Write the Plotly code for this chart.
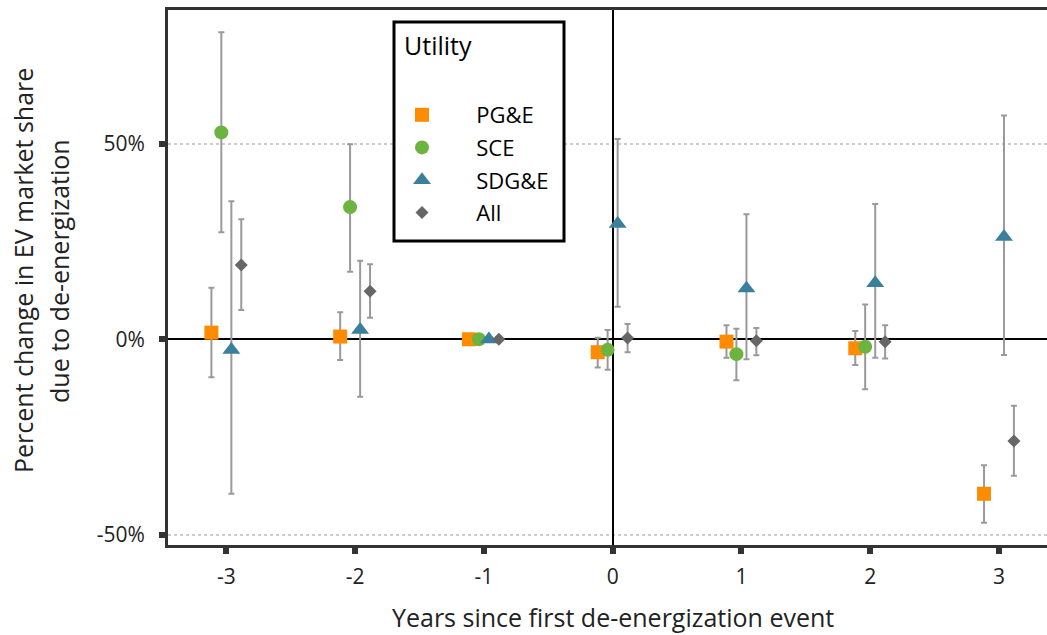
import plotly.graph_objects as go

# ---- data (percent) ----
years = [-3, -2, -1, 0, 1, 2, 3]
utilities = ["PG&E", "SCE", "SDG&E", "All"]
dodge = [-0.116, -0.039, 0.039, 0.116]

pge = [1.7, 0.7, 0.0, -3.3, -0.6, -2.3, -39.5]
pge_hi = [13.2, 6.9, None, 0.4, 3.6, 2.1, -32.2]
pge_lo = [-9.7, -5.3, None, -7.2, -4.7, -6.6, -46.9]

sce = [52.9, 33.8, 0.0, -2.7, -3.8, -1.9, None]
sce_hi = [78.5, 49.9, None, 2.4, 2.7, 8.9, None]
sce_lo = [27.4, 17.3, None, -7.8, -10.5, -12.8, None]

sdge = [-2.7, 2.4, 0.0, 29.5, 13.0, 14.4, 26.2]
sdge_hi = [35.3, 20.1, None, 51.2, 32.0, 34.6, 57.2]
sdge_lo = [-39.5, -14.7, None, 8.3, -5.1, -4.7, -4.0]

allu = [19.0, 12.3, 0.0, 0.3, -0.4, -0.6, -26.0]
allu_hi = [30.7, 19.2, None, 3.9, 2.9, 3.6, -17.0]
allu_lo = [7.5, 5.5, None, -3.3, -4.1, -4.9, -34.9]

yticks = [-50, 0, 50]
yticktext = ["-50%", "0%", "50%"]
x_title = "Years since first de-energization event"
y_title_lines = ["Percent change in EV market share", "due to de-energization"]

colors = ["#FF8C00", "#6DB33F", "#3A7F9C", "#666666"]
symbols = ["square", "circle", "triangle-up", "diamond"]
sizes = [14, 14, 15.6, 10]

vals = [pge, sce, sdge, allu]
his = [pge_hi, sce_hi, sdge_hi, allu_hi]
los = [pge_lo, sce_lo, sdge_lo, allu_lo]

FONT = "Open Sans"
PAD = "\u00a0" * 6  # gap between legend symbol and label

# plot area in pixels
L, T, B, W = 168, 10, 545, 879


def px_x(p):
    return (p - L) / W


def px_y(p):
    return (B - p) / (B - T)


fig = go.Figure()
for i, name in enumerate(utilities):
    v, hi, lo = vals[i], his[i], los[i]
    plus = [None if (h is None or a is None) else h - a for h, a in zip(hi, v)]
    minus = [None if (l is None or a is None) else a - l for l, a in zip(lo, v)]
    fig.add_trace(go.Scatter(
        x=[y + dodge[i] for y in years], y=v, name=PAD + name, mode="markers",
        legendgroup=name,
        marker=dict(symbol=symbols[i], size=sizes[i], color=colors[i], line=dict(width=0)),
        error_y=dict(type="data", array=plus, arrayminus=minus, symmetric=False,
                     color="#9a9a9a", thickness=2, width=3),
    ))

# legend frame
fig.add_shape(type="rect", xref="paper", yref="paper",
              x0=px_x(394), x1=px_x(564), y0=px_y(241), y1=px_y(22),
              fillcolor="white", line=dict(color="black", width=3), layer="above")

# axis titles
title_font = dict(family=FONT, size=25, color="#222222")
fig.add_annotation(text=x_title, xref="x", x=0, yref="paper", y=px_y(617),
                   xanchor="center", yanchor="middle", showarrow=False,
                   font=title_font)
for txt, xp in zip(y_title_lines, [23, 59]):
    fig.add_annotation(text=txt, xref="paper", x=px_x(xp), yref="paper", y=px_y(271),
                       xanchor="center", yanchor="middle", showarrow=False, textangle=-90,
                       font=title_font)

fig.update_layout(
    width=1047, height=635,
    margin=dict(l=168, r=0, t=10, b=90),
    paper_bgcolor="white", plot_bgcolor="white",
    font=dict(family=FONT, size=21, color="#222222"),
    legend=dict(
        x=px_x(402), y=px_y(16), xanchor="left", yanchor="top",
        borderwidth=0, bgcolor="rgba(0,0,0,0)",
        title=dict(text="<span style='font-size:25px'>Utility</span><br>\u00a0",
                   font=dict(size=30, color="black")),
        font=dict(size=22, color="black"),
        traceorder="grouped", tracegroupgap=1, itemwidth=30, indentation=0,
    ),
    xaxis=dict(
        range=[-3.453, 3.373], tickvals=years, ticktext=[str(y) for y in years],
        showgrid=False, zeroline=True, zerolinecolor="black", zerolinewidth=2,
        showline=True, linecolor="#333333", linewidth=3, mirror=True,
        ticks="outside", ticklen=6, tickwidth=6, tickcolor="#333333",
        ticklabelstandoff=5,
        tickfont=dict(size=21),
    ),
    yaxis=dict(
        range=[-52.6, 84.2], tickvals=yticks, ticktext=yticktext,
        showgrid=True, gridcolor="#cccccc", griddash="dot", gridwidth=1.5,
        zeroline=True, zerolinecolor="black", zerolinewidth=2,
        showline=True, linecolor="#333333", linewidth=3,
        ticks="outside", ticklen=6, tickwidth=6, tickcolor="#333333",
        ticklabelstandoff=10,
        tickfont=dict(size=21),
    ),
)

fig.write_html("out.html")
